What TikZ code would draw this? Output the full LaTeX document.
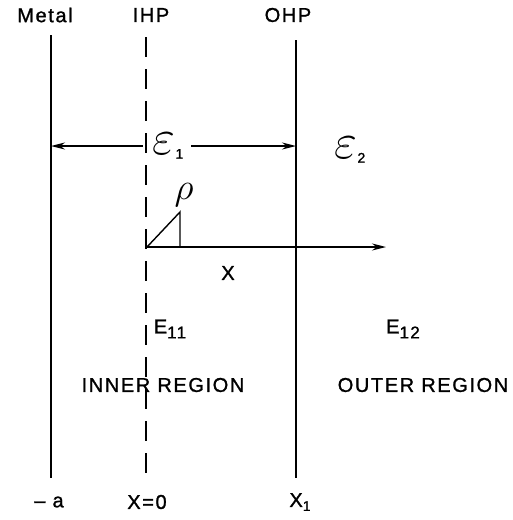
\documentclass[tikz,border=0pt]{standalone}
\usepackage{graphicx}
\usepackage{fontspec}
\setmainfont{Liberation Sans}[LetterSpace=8,FakeBold=1.2]
\usetikzlibrary{arrows.meta}
\newcommand{\sbig}[1]{\raisebox{-5pt}{\fontsize{17}{17}\selectfont #1}}
\newcommand{\ssmall}[1]{\raisebox{-4pt}{\fontsize{14}{14}\selectfont #1}}
\newcommand{\bigeps}{\scalebox{2.4}{$\varepsilon$}}
\begin{document}
\begin{tikzpicture}[x=1pt,y=-1pt,
  lbl/.style={inner sep=0pt,font=\fontsize{20}{22}\selectfont},
  plane/.style={line width=1.8pt},
  ihp/.style={line width=1.8pt,dash pattern=on 20pt off 12pt},
  arr/.style={line width=1.4pt,-{Stealth[length=14pt,width=7pt]}}]
\useasboundingbox (0,0) rectangle (513,520);
% top labels
\node[lbl] (tmetal) at (45,15) {Metal};
\node[lbl] (tihp) at (151,15) {IHP};
\node[lbl] (tohp) at (288,15) {OHP};
% planes
\coordinate (mtop) at (51,35);
\coordinate (mbot) at (51,478);
\coordinate (itop) at (146,37);
\coordinate (ibot) at (146,480);
\coordinate (otop) at (296,40);
\coordinate (obot) at (296,478);
\draw[plane] (mtop) -- (mbot);
\draw[ihp] (itop) -- (ibot);
\draw[plane] (otop) -- (obot);
% epsilon arrows
\node[lbl] (eps1) at (168,146) {\bigeps\ssmall{1}};
\node[lbl] (eps2) at (350,150) {\bigeps\ssmall{2}};
\coordinate (ml) at (51,146);
\coordinate (or) at (296,146);
\draw[arr] (eps1.west) ++(-10,0) -- (ml);
\draw[arr] (eps1.east) ++(8,0) -- (or);
% x axis
\coordinate (o) at (147,247);
\coordinate (xend) at (386,247);
\draw[arr] (o) -- (xend);
\coordinate (apex) at (180,212);
\coordinate (foot) at (180,247);
\draw[line width=1.4pt] (o) -- (apex) -- (foot);
\node[lbl] (rho) at (184,195) {\scalebox{1.8}{$\rho$}};
\node[lbl] (xl) at (228,273) {X};
% fields
\node[lbl] (e11) at (170,329) {E\sbig{11}};
\node[lbl] (e12) at (403,329) {E\sbig{12}};
\node[lbl] (inner) at (163,385) {INNER REGION};
\node[lbl] (outer) at (423,385) {OUTER REGION};
% bottom labels
\node[lbl] (ma) at (49,502) {– a};
\node[lbl] (x0) at (147,502) {X=0};
\node[lbl] (x1) at (300,502) {X\ssmall{1}};
\end{tikzpicture}
\end{document}
